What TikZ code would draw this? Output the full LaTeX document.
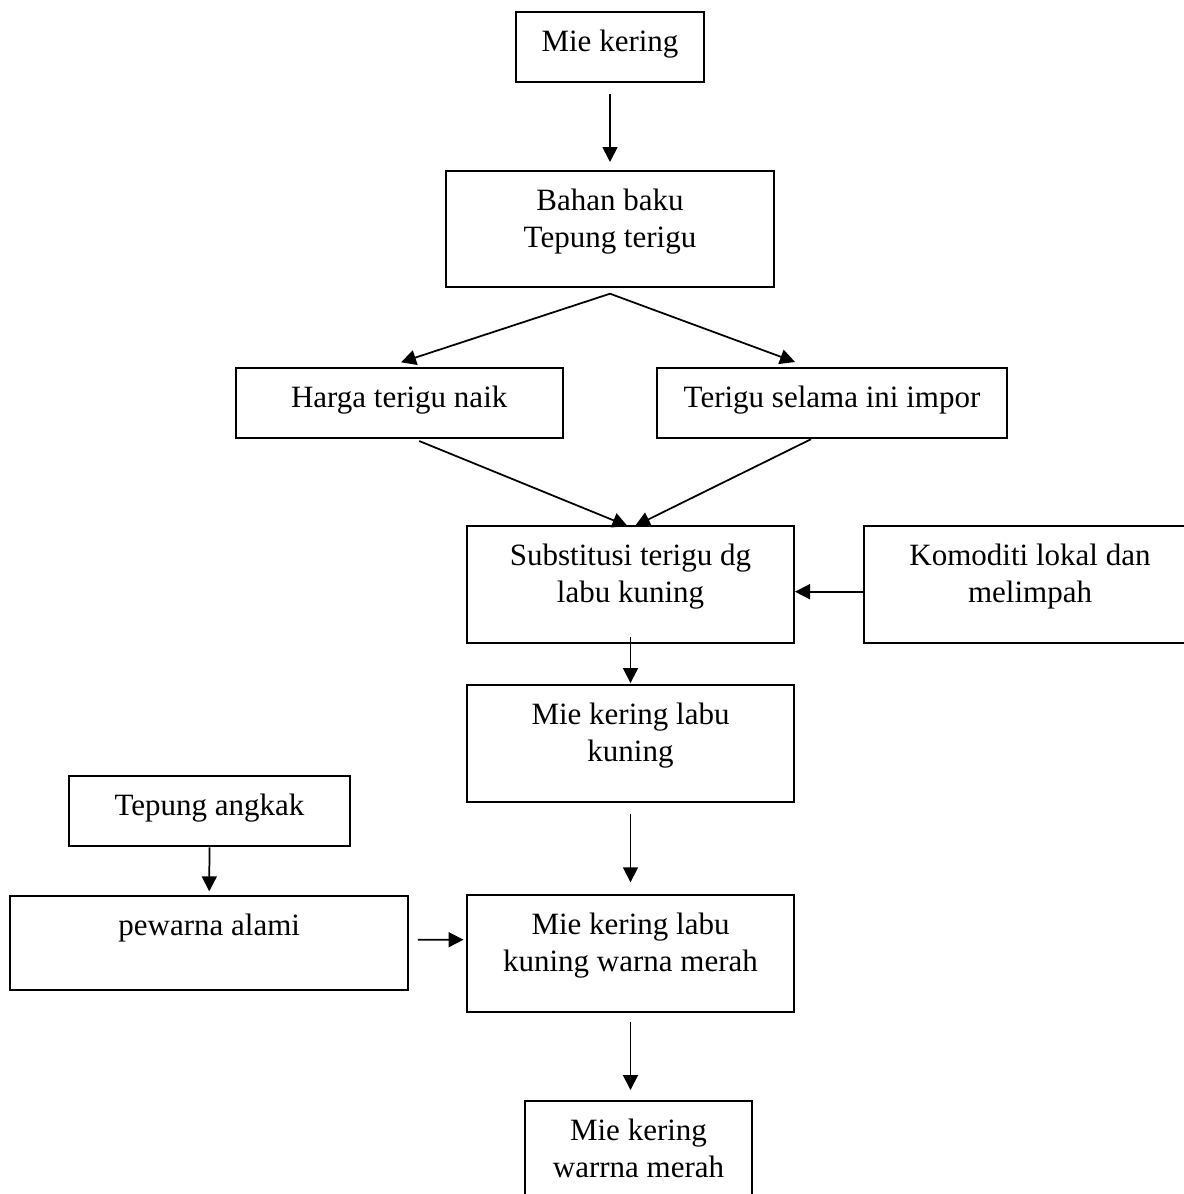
\documentclass[tikz,border=0pt]{standalone}
\usepackage{fontspec}
\setmainfont{Liberation Serif}
\usepackage{tikz}
\usetikzlibrary{calc}
\usetikzlibrary{positioning}
\usetikzlibrary{arrows.meta}
\tikzset{
    kotak/.style={draw, line width=0.8pt, inner sep=0pt},
    teks/.style={inner sep=0pt, align=center, font=\fontsize{12.4pt}{14.8pt}\selectfont},
    panah/.style={line width=0.7pt, ->},
    >={Triangle[length=6pt,width=6pt]}
}

\begin{document}
\begin{tikzpicture}[x=0.4pt,y=-0.4pt]
    \useasboundingbox (0,0) rectangle (1184,1194);
    \clip (0,0) rectangle (1184,1194);

    \node[kotak, minimum width=75.2pt, minimum height=28pt] (mie) at (610,47) {};
    \node[kotak, minimum width=131.2pt, minimum height=46.4pt] (bahan) at (610,229) {};
    \node[kotak, minimum width=130.8pt, minimum height=28pt] (harga) at (399.2,402.7) {};
    \node[kotak, minimum width=140pt, minimum height=28pt] (impor) at (832,402.7) {};
    \node[kotak, minimum width=130.8pt, minimum height=46.8pt] (substitusi) at (630.5,584.5) {};
    \node[kotak, minimum width=132.8pt, minimum height=46.8pt] (komoditi) at (1030,584.5) {};
    \node[kotak, minimum width=130.8pt, minimum height=46.6pt] (mielabu) at (630.5,743.3) {};
    \node[kotak, minimum width=112.4pt, minimum height=28.2pt] (angkak) at (209.5,811.2) {};
    \node[kotak, minimum width=159pt, minimum height=37.6pt] (pewarna) at (209.2,942.7) {};
    \node[kotak, minimum width=130.8pt, minimum height=46.8pt] (miemerah) at (630.5,953.5) {};
    \node[kotak, minimum width=90.8pt, minimum height=46.8pt] (akhir) at (638.5,1159.5) {};

    \node[teks, below=7.4pt of mie.north] (tmie) {Mie kering};
    \node[teks, below=7.4pt of bahan.north] (tbahan) {Bahan baku\\Tepung terigu};
    \node[teks, below=7.4pt of harga.north] (tharga) {Harga terigu naik};
    \node[teks, below=7.4pt of impor.north] (timpor) {Terigu selama ini impor};
    \node[teks, below=7.4pt of substitusi.north] (tsubstitusi) {Substitusi terigu dg\\labu kuning};
    \node[teks, below=7.4pt of komoditi.north] (tkomoditi) {Komoditi lokal dan\\melimpah};
    \node[teks, below=7.4pt of mielabu.north] (tmielabu) {Mie kering labu\\kuning};
    \node[teks, below=7.4pt of angkak.north] (tangkak) {Tepung angkak};
    \node[teks, below=7.4pt of pewarna.north] (tpewarna) {pewarna alami};
    \node[teks, below=7.4pt of miemerah.north] (tmiemerah) {Mie kering labu\\kuning warna merah};
    \node[teks, below=7.4pt of akhir.north] (takhir) {Mie kering\\warrna merah};

    \coordinate (cabang) at ($(bahan.south)+(0,5.7)$);
    \draw[panah] ($(mie.south)+(0,11)$) -- ($(bahan.north)+(0,-8)$);
    \draw[panah] (cabang) -- ($(harga.north)+(1.8,-4.4)$);
    \draw[panah] (cabang) -- ($(impor.north)+(-37,-4.7)$);
    \draw[panah] ($(harga.south)+(20,2.3)$) -- ($(substitusi.north)+(-3,1)$);
    \draw[panah] ($(impor.south)+(-21,0.5)$) -- ($(substitusi.north)+(4.5,1)$);
    \draw[panah] ($(komoditi.west)+(0,7.2)$) -- ($(substitusi.east)+(0,7.2)$);
    \draw[panah] ($(substitusi.south)+(0,-7.3)$) -- ($(mielabu.north)+(0,-1)$);
    \draw[panah] ($(mielabu.south)+(0,11)$) -- ($(miemerah.north)+(0,-11.7)$);
    \draw[panah] (angkak.south) -- ($(pewarna.north)+(0,-3.4)$);
    \draw[panah] ($(pewarna.east)+(9,-3)$) -- ($(miemerah.west)+(-2.5,-13.8)$);
    \draw[panah] ($(miemerah.south)+(0,9.3)$) -- ($(akhir.north)+(-8,-10)$);
\end{tikzpicture}
\end{document}
